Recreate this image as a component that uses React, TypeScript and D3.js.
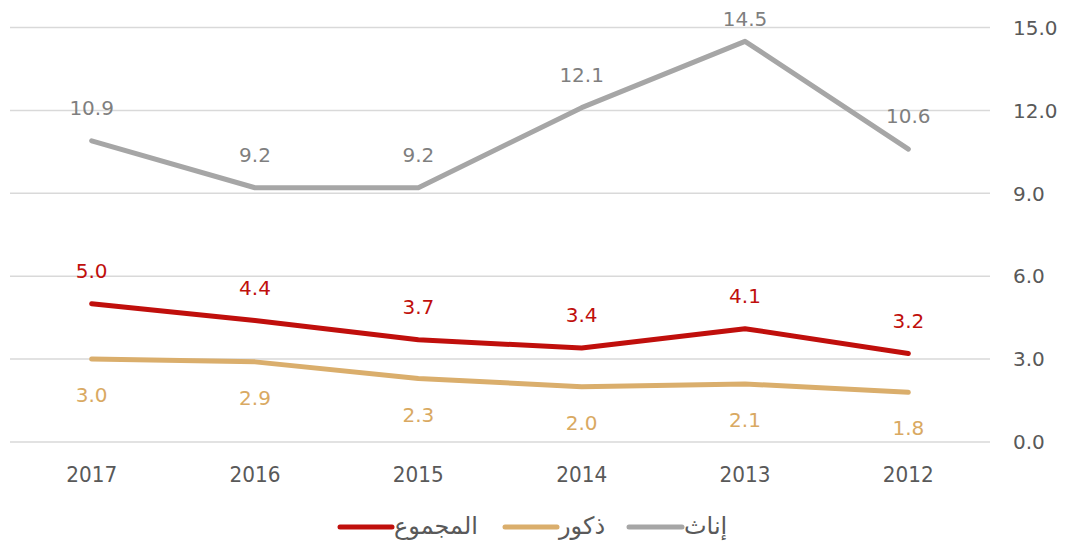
import React from "react";
import * as d3 from "d3";

const years = ["2017", "2016", "2015", "2014", "2013", "2012"];
const total = [5.0, 4.4, 3.7, 3.4, 4.1, 3.2];
const males = [3.0, 2.9, 2.3, 2.0, 2.1, 1.8];
const females = [10.9, 9.2, 9.2, 12.1, 14.5, 10.6];
const yTicks = [0, 3, 6, 9, 12, 15];
const seriesNames = ["المجموع", "ذكور", "إناث"];

const W = 1065;
const H = 545;
const FONT = "DejaVu Sans, Verdana, sans-serif";

export default function App() {
  const x = d3.scaleBand<string>().domain(years).range([10, 990]);
  const y = d3.scaleLinear().domain([0, 15]).range([442, 27.5]);
  const cx = (d: string) => (x(d) as number) + x.bandwidth() / 2;
  const line = d3
    .line<number>()
    .x((_, i) => cx(years[i]))
    .y((v) => y(v));

  const series = [
    { name: seriesNames[0], data: total, color: "#C00F0C", label: "#C00F0C", above: true },
    { name: seriesNames[1], data: males, color: "#DAAE6C", label: "#D9A962", above: false },
    { name: seriesNames[2], data: females, color: "#A6A6A6", label: "#7F7F7F", above: true },
  ];

  const legend = [
    { s: series[0], x1: 340, x2: 392, tx: 394 },
    { s: series[1], x1: 505, x2: 557, tx: 559 },
    { s: series[2], x1: 629, x2: 682, tx: 684 },
  ];

  return (
    <svg
      width={W}
      height={H}
      style={{ position: "absolute", left: 0, top: 0, background: "#fff" }}
      fontFamily={FONT}
    >
      {yTicks.map((t) => (
        <g key={t}>
          <line x1={10} x2={990} y1={y(t)} y2={y(t)} stroke="#D9D9D9" strokeWidth={1.5} />
          <text x={1013} y={y(t)} dy="0.36em" fontSize={20} fill="#595959">
            {t.toFixed(1)}
          </text>
        </g>
      ))}
      {years.map((yr) => (
        <text
          key={yr}
          x={cx(yr)}
          y={474}
          dy="0.36em"
          fontSize={22}
          fill="#595959"
          textAnchor="middle"
          textLength={51}
          lengthAdjust="spacingAndGlyphs"
        >
          {yr}
        </text>
      ))}
      {series.map((s) => (
        <path
          key={s.name}
          d={line(s.data) || ""}
          fill="none"
          stroke={s.color}
          strokeWidth={5}
          strokeLinejoin="round"
          strokeLinecap="round"
        />
      ))}
      {series.map((s) =>
        s.data.map((v, i) => (
          <text
            key={s.name + i}
            x={cx(years[i])}
            y={s.above ? Math.max(y(v) - 33, 19) : y(v) + 36}
            dy="0.36em"
            fontSize={20}
            fill={s.label}
            textAnchor="middle"
          >
            {v.toFixed(1)}
          </text>
        ))
      )}
      {legend.map((l) => (
        <g key={l.s.name}>
          <line
            x1={l.x1}
            x2={l.x2}
            y1={527}
            y2={527}
            stroke={l.s.color}
            strokeWidth={5}
            strokeLinecap="round"
          />
          <text x={l.tx} y={527} dy="0.3em" fontSize={24} fill="#595959" textAnchor="start">
            {l.s.name}
          </text>
        </g>
      ))}
    </svg>
  );
}
